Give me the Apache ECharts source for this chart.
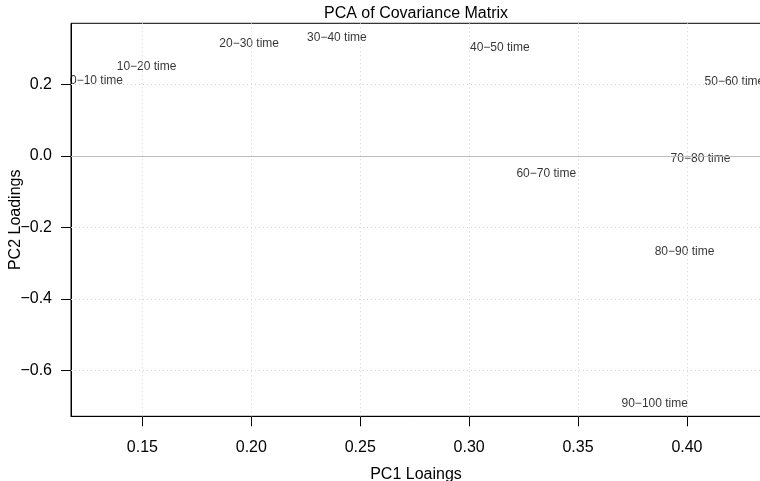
<!DOCTYPE html>
<html>
<head>
<meta charset="utf-8">
<script src="https://cdn.jsdelivr.net/npm/echarts@6/dist/echarts.min.js"></script>
<style>html,body{margin:0;padding:0;background:#fff}#c{width:760px;height:481px}</style>
</head>
<body>
<div id="c"></div>
<script>
var labels = ["0\u221210 time","10\u221220 time","20\u221230 time","30\u221240 time","40\u221250 time","50\u221260 time","60\u221270 time","70\u221280 time","80\u221290 time","90\u2212100 time"];
var pc1 = [0.1289, 0.1519, 0.1990, 0.2393, 0.3141, 0.4218, 0.3354, 0.4062, 0.3989, 0.3852];
var pc2 = [0.2097, 0.2488, 0.3140, 0.3300, 0.3028, 0.2088, -0.0495, -0.0084, -0.2684, -0.6914];
var xTicks = [0.15, 0.20, 0.25, 0.30, 0.35, 0.40];
var yTicks = [-0.6, -0.4, -0.2, 0.0, 0.2];
var xRange = [0.1172, 0.434];
var yRange = [-0.7277, 0.371];

var FONT = "Liberation Sans";
function fmt(v, d){ return v.toFixed(d).replace('-', '\u2212'); }

var pts = labels.map(function(n, i){ return { name: n, value: [pc1[i], pc2[i]] }; });
var gridLines = [];
xTicks.forEach(function(v){ gridLines.push({ xAxis: v }); });
yTicks.forEach(function(v){ if (v !== 0) gridLines.push({ yAxis: v }); });

var chart = echarts.init(document.getElementById('c'), null, { renderer: 'canvas' });
chart.setOption({
  animation: false,
  backgroundColor: '#fff',
  textStyle: { fontFamily: FONT },
  title: {
    text: 'PCA of Covariance Matrix',
    left: 324, top: 6, padding: 0,
    textStyle: { fontFamily: FONT, fontSize: 16, fontWeight: 'normal', color: '#000' }
  },
  grid: { left: 71, right: -1, top: 23.3, bottom: 64.7, containLabel: false, outerBoundsMode: 'none',
    show: true, borderColor: '#000', borderWidth: 1, backgroundColor: 'transparent' },
  xAxis: {
    type: 'value', min: xRange[0], max: xRange[1],
    name: 'PC1 Loaings', nameLocation: 'middle', nameGap: 50, nameMoveOverlap: false,
    nameTextStyle: { fontFamily: FONT, fontSize: 16, color: '#000' },
    axisLine: { show: true, onZero: false, lineStyle: { color: '#000', width: 1 } },
    axisTick: { show: true, length: 10, customValues: xTicks, lineStyle: { color: '#000' } },
    axisLabel: { customValues: xTicks, fontFamily: FONT, fontSize: 16, color: '#000', margin: 23,
      formatter: function(v){ return fmt(v, 2); } },
    splitLine: { show: false }
  },
  yAxis: {
    type: 'value', min: yRange[0], max: yRange[1],
    name: 'PC2 Loadings', nameLocation: 'middle', nameGap: 47, nameRotate: 90, nameMoveOverlap: false,
    nameTextStyle: { fontFamily: FONT, fontSize: 16, color: '#000' },
    axisLine: { show: true, onZero: false, lineStyle: { color: '#000', width: 1 } },
    axisTick: { show: true, length: 10, customValues: yTicks, lineStyle: { color: '#000' } },
    axisLabel: { customValues: yTicks, fontFamily: FONT, fontSize: 16, color: '#000', margin: 19,
      formatter: function(v){ return fmt(v, 1); } },
    splitLine: { show: false }
  },
  series: [
    {
      type: 'scatter', data: [], silent: true, z: 1,
      markLine: {
        silent: true, symbol: ['none', 'none'], label: { show: false }, animation: false,
        lineStyle: { color: '#d3d3d3', type: [1, 3], width: 1 },
        data: gridLines
      }
    },
    {
      type: 'scatter', data: [], silent: true, z: 2,
      markLine: {
        silent: true, symbol: ['none', 'none'], label: { show: false }, animation: false,
        lineStyle: { color: '#bebebe', type: 'solid', width: 1 },
        data: [{ yAxis: 0 }]
      }
    },
    {
      type: 'scatter', data: pts, symbolSize: 0, z: 3, silent: true,
      label: {
        show: true, position: 'inside', formatter: '{b}',
        fontFamily: FONT, fontSize: 12, color: '#000', textBorderWidth: 0
      }
    }
  ]
});
</script>
</body>
</html>
